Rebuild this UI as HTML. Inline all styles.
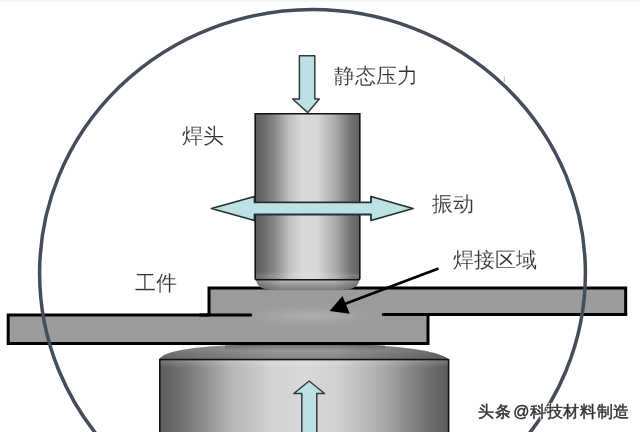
<!DOCTYPE html>
<html><head><meta charset="utf-8">
<style>
html,body{margin:0;padding:0;background:#fff;}
body{width:640px;height:432px;overflow:hidden;position:relative;font-family:"Liberation Sans",sans-serif;}
svg{position:absolute;left:0;top:0;}
.t{position:absolute;font-size:21px;line-height:21px;color:#333;-webkit-text-stroke:0.15px #fff;will-change:transform;white-space:nowrap;letter-spacing:0px;}
.wm{position:absolute;font-size:16px;line-height:16px;color:#333;white-space:nowrap;font-weight:400;-webkit-text-stroke:0.45px #333;letter-spacing:0.65px;will-change:transform;
 text-shadow:1px 1px 0 #fff,-1px -1px 0 #fff,1px -1px 0 #fff,-1px 1px 0 #fff,0 1.5px 1px #fff,1.5px 0 1px #fff;}
</style></head>
<body>
<svg width="640" height="432" viewBox="0 0 640 432">
<defs>
 <linearGradient id="cyl" x1="0" x2="1" y1="0" y2="0">
  <stop offset="0" stop-color="#5c5c5c"/>
  <stop offset="0.08" stop-color="#6a6a6a"/>
  <stop offset="0.2" stop-color="#8e8e8e"/>
  <stop offset="0.33" stop-color="#c2c2c2"/>
  <stop offset="0.45" stop-color="#d9d9d9"/>
  <stop offset="0.6" stop-color="#d6d6d6"/>
  <stop offset="0.78" stop-color="#a6a6a6"/>
  <stop offset="0.92" stop-color="#707070"/>
  <stop offset="1" stop-color="#606060"/>
 </linearGradient>
 <linearGradient id="anv" x1="0" x2="1" y1="0" y2="0">
  <stop offset="0" stop-color="#5c5c5c"/>
  <stop offset="0.1" stop-color="#797979"/>
  <stop offset="0.25" stop-color="#b6b6b6"/>
  <stop offset="0.38" stop-color="#d2d2d2"/>
  <stop offset="0.5" stop-color="#d9d9d9"/>
  <stop offset="0.62" stop-color="#d0d0d0"/>
  <stop offset="0.78" stop-color="#a8a8a8"/>
  <stop offset="0.9" stop-color="#7a7a7a"/>
  <stop offset="1" stop-color="#5a5a5a"/>
 </linearGradient>
 <linearGradient id="dome" x1="0" x2="1" y1="0" y2="0">
  <stop offset="0" stop-color="#707070"/>
  <stop offset="0.4" stop-color="#959595"/>
  <stop offset="0.6" stop-color="#959595"/>
  <stop offset="1" stop-color="#646464"/>
 </linearGradient>
 <linearGradient id="domev" x1="0" x2="0" y1="0" y2="1">
  <stop offset="0" stop-color="#fff" stop-opacity="0.08"/>
  <stop offset="1" stop-color="#000" stop-opacity="0.12"/>
 </linearGradient>
 <linearGradient id="dsh" x1="0" x2="0" y1="0" y2="1">
  <stop offset="0" stop-color="#000" stop-opacity="0.3"/>
  <stop offset="1" stop-color="#000" stop-opacity="0"/>
 </linearGradient>
 <linearGradient id="hl2" x1="0" x2="0" y1="0" y2="1">
  <stop offset="0" stop-color="#fff" stop-opacity="0.18"/>
  <stop offset="1" stop-color="#fff" stop-opacity="0"/>
 </linearGradient>
 <linearGradient id="bulge" x1="0" x2="0" y1="0" y2="1">
  <stop offset="0" stop-color="#bababa"/>
  <stop offset="0.55" stop-color="#959595"/>
  <stop offset="1" stop-color="#7c7c7c"/>
 </linearGradient>
 <linearGradient id="bulgeh" x1="0" x2="1" y1="0" y2="0">
  <stop offset="0" stop-color="#000" stop-opacity="0.25"/>
  <stop offset="0.25" stop-color="#000" stop-opacity="0"/>
  <stop offset="0.75" stop-color="#000" stop-opacity="0"/>
  <stop offset="1" stop-color="#000" stop-opacity="0.25"/>
 </linearGradient>
 <linearGradient id="hl" x1="0" x2="0" y1="0" y2="1">
  <stop offset="0" stop-color="#fff" stop-opacity="0"/>
  <stop offset="0.5" stop-color="#fff" stop-opacity="0.13"/>
  <stop offset="1" stop-color="#fff" stop-opacity="0.06"/>
 </linearGradient>
 <radialGradient id="weld" cx="0.5" cy="0.5" r="0.5">
  <stop offset="0" stop-color="#fff" stop-opacity="0.16"/>
  <stop offset="0.5" stop-color="#fff" stop-opacity="0.08"/>
  <stop offset="1" stop-color="#fff" stop-opacity="0"/>
 </radialGradient>
 <radialGradient id="weld2" cx="0.5" cy="0.5" r="0.5">
  <stop offset="0" stop-color="#fff" stop-opacity="0.06"/>
  <stop offset="1" stop-color="#fff" stop-opacity="0"/>
 </radialGradient>
</defs>

<!-- plates fill -->
<path d="M8.2 315 L209 315 L209 288 L625.7 288 L625.7 314.5 L428 314.5 L428 343.5 L8.2 343.5 Z" fill="#9b9b9b"/>
<ellipse cx="312" cy="317" rx="80" ry="17" fill="url(#weld2)"/>
<ellipse cx="309" cy="316" rx="62" ry="9" fill="url(#weld)"/>
<!-- plate outlines -->
<path d="M8.2 315 L209 315 L209 288 L625.7 288 L625.7 314.5 M428 314.5 L428 343.5 L8.2 343.5 L8.2 313.5" fill="none" stroke="#000" stroke-width="3" stroke-linejoin="miter"/>
<path d="M200 315 L250.8 315 M383.2 314.5 L626 314.5" fill="none" stroke="#000" stroke-width="3" stroke-linecap="round"/>

<!-- upper horn bulge -->
<path d="M256 279.5 C256.8 286 260.5 289.6 274 290.2 L341 290.2 C354.5 289.6 358.7 286 359.5 279.5 Z" fill="url(#bulge)"/>
<path d="M256 279.5 C256.8 286 260.5 289.6 274 290.2 L341 290.2 C354.5 289.6 358.7 286 359.5 279.5 Z" fill="url(#bulgeh)"/>
<!-- upper cylinder -->
<path d="M255.2 113.7 L359.8 113.7 L359.8 278 Q359.8 279.8 358 279.8 L257 279.8 Q255.2 279.8 255.2 278 Z" fill="url(#cyl)" stroke="#111" stroke-width="1.6"/>
<rect x="256" y="272" width="103" height="7" fill="url(#hl)"/>

<!-- anvil -->
<path d="M159 359.5 C163 351 195 346.2 240 345 L368 345 C405 346.2 442 352 448.6 359.5 Z" fill="url(#dome)"/>
<path d="M159 359.5 C163 351 195 346.2 240 345 L368 345 C405 346.2 442 352 448.6 359.5 Z" fill="url(#domev)"/>
<rect x="225" y="344.5" width="160" height="6" fill="url(#dsh)"/>
<rect x="159.8" y="359.6" width="288.8" height="90" fill="url(#anv)" stroke="#111" stroke-width="1.6"/>
<rect x="160.6" y="360.4" width="287.2" height="7" fill="url(#hl2)"/>

<!-- top arrow -->
<polygon points="299.4,55.7 314.8,55.7 314.8,99 319.3,99 307.8,112.6 292.6,99 299.4,99" fill="#bce1e5" stroke="#353c3c" stroke-width="1.5" stroke-linejoin="round"/>
<!-- double arrow -->
<polygon points="211.5,208.5 254.5,196.5 254.5,202.3 371,202.3 371,196.5 413,208.5 371,220.5 371,214.5 254.5,214.5 254.5,220.5" fill="#bde2e6" stroke="#253030" stroke-width="1.8" stroke-linejoin="round"/>
<!-- up arrow -->
<polygon points="309.2,381 324.5,393.5 316.8,393.5 316.8,440 301.8,440 301.8,393.5 293.8,393.5" fill="#bce1e5" stroke="#353c3c" stroke-width="1.5" stroke-linejoin="round"/>

<!-- weld pointer -->
<line x1="438.5" y1="268.5" x2="342" y2="305" stroke="#000" stroke-width="2.8"/>
<polygon points="329.5,311 342.5,296 349.8,313.8" fill="#000"/>

<rect x="0" y="0" width="640" height="2" fill="#f6f6f6"/>
<line x1="504.3" y1="76.5" x2="504.3" y2="82" stroke="#9aa0a8" stroke-width="0.8"/>
<!-- big ellipse -->
<ellipse cx="312.5" cy="273.2" rx="272.9" ry="263.6" fill="none" stroke="#454d5a" stroke-width="3.5"/>
</svg>

<div class="t" style="left:333.7px;top:65px;">静态压力</div>
<div class="t" style="left:182px;top:125px;">焊头</div>
<div class="t" style="left:432.4px;top:192.5px;">振动</div>
<div class="t" style="left:453px;top:249px;">焊接区域</div>
<div class="t" style="left:134.8px;top:272px;">工件</div>
<div class="wm" style="left:477.7px;top:404.2px;">头条<span style="letter-spacing:-2.6px"> </span>@科技材料制造</div>
</body></html>
